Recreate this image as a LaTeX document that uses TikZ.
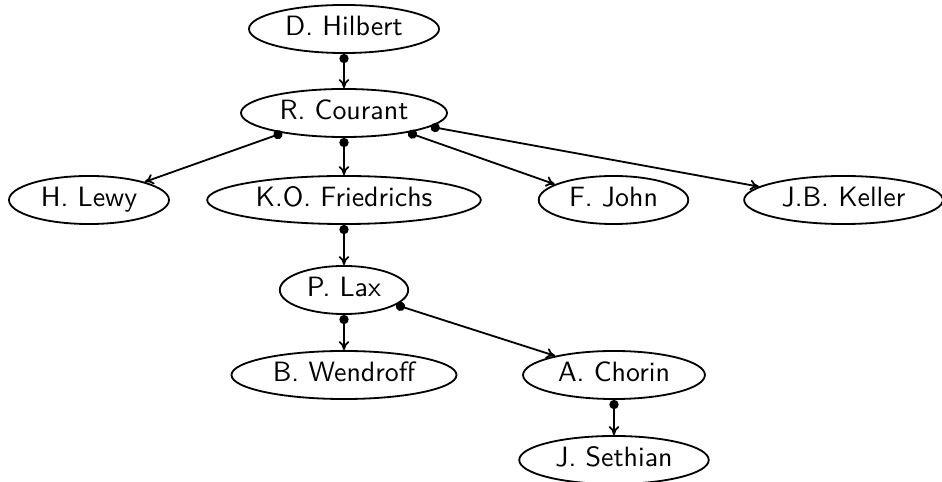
\documentclass[tikz,border=0pt]{standalone}
\usetikzlibrary{shapes.geometric,arrows.meta}
\begin{document}
\begin{tikzpicture}%
	[x={(0.358pt, 0pt)},
	y={(0pt, -0.358pt)},
	font=\sffamily,
	person/.style={ellipse, draw=black, line width=0.65pt, inner xsep=3pt, inner ysep=1pt,
		minimum height=17.2pt, text height=6.94pt, text depth=1.94pt},
	advisor/.style={line width=0.65pt, {Circle[length=3.3pt]}-{To[length=3.2pt, width=3.8pt]}}]
%
\useasboundingbox (0,0) rectangle (942,482);
%%
%%
%% Drawing the vertices
%%
\node[person] (hilbert) at (344, 29) {D. Hilbert};
\node[person] (courant) at (344, 113) {R. Courant};
\node[person] (lewy) at (89, 200) {H. Lewy};
\node[person] (friedrichs) at (344, 200) {K.O. Friedrichs};
\node[person] (john) at (613.5, 200) {F. John};
\node[person] (keller) at (843.5, 200) {J.B. Keller};
\node[person] (lax) at (344, 290) {P. Lax};
\node[person] (wendroff) at (344, 375) {B. Wendroff};
\node[person] (chorin) at (614, 375) {A. Chorin};
\node[person] (sethian) at (614, 460) {J. Sethian};
%%
%%
%% Drawing the edges
%%
\draw[advisor] (hilbert) -- (courant);
\draw[advisor] (courant.198) -- (lewy.18);
\draw[advisor] (courant) -- (friedrichs);
\draw[advisor] (courant.343.5) -- (john.165);
\draw[advisor] (courant.351) -- (keller.171);
\draw[advisor] (friedrichs) -- (lax);
\draw[advisor] (lax) -- (wendroff);
\draw[advisor] (lax.344) -- (chorin.162);
\draw[advisor] (chorin) -- (sethian);

\end{tikzpicture}
\end{document}
